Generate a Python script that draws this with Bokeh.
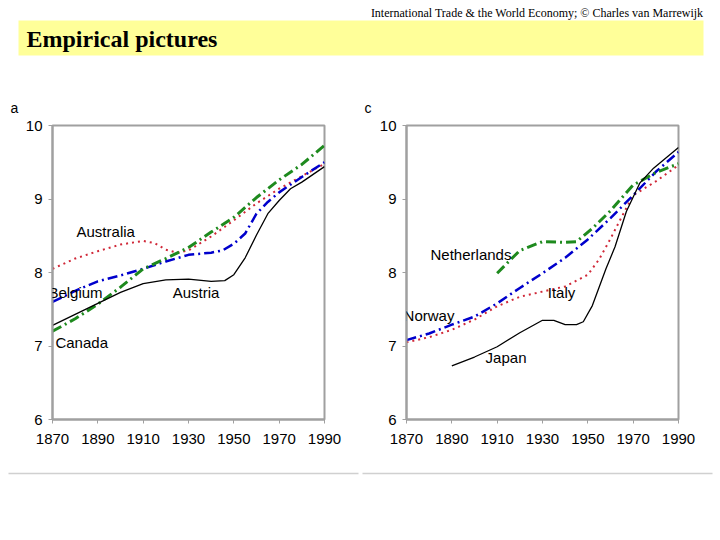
from bokeh.plotting import figure
from bokeh.models import Range1d, Label, FixedTicker
from bokeh.layouts import column, row
from bokeh.embed import file_html
from bokeh.resources import INLINE
from bokeh.core.properties import value

# ---------------- data ----------------
# Panel a
aus_years = [1870, 1880, 1890, 1900, 1910, 1915, 1920, 1925, 1930, 1940, 1950, 1960, 1970, 1980, 1990]
aus_vals  = [8.05, 8.19, 8.29, 8.38, 8.43, 8.40, 8.31, 8.27, 8.30, 8.49, 8.71, 8.94, 9.14, 9.31, 9.48]
bel_years = [1870, 1880, 1890, 1900, 1910, 1920, 1930, 1940, 1945, 1950, 1955, 1960, 1965, 1970, 1980, 1990]
bel_vals  = [7.60, 7.75, 7.88, 7.96, 8.05, 8.15, 8.24, 8.27, 8.30, 8.39, 8.53, 8.80, 8.96, 9.09, 9.30, 9.50]
can_years = [1870, 1880, 1890, 1900, 1910, 1920, 1930, 1940, 1950, 1960, 1970, 1980, 1990]
can_vals  = [7.20, 7.37, 7.57, 7.80, 8.05, 8.19, 8.34, 8.55, 8.75, 9.02, 9.26, 9.47, 9.73]
aut_years = [1870, 1880, 1890, 1900, 1910, 1920, 1930, 1940, 1946, 1950, 1955, 1960, 1965, 1970, 1975, 1980, 1990]
aut_vals  = [7.28, 7.43, 7.58, 7.73, 7.85, 7.90, 7.91, 7.88, 7.89, 7.97, 8.20, 8.51, 8.80, 8.98, 9.14, 9.23, 9.44]

# Panel c
ned_years = [1910, 1920, 1930, 1940, 1945, 1952, 1960, 1970, 1980, 1990]
ned_vals  = [7.99, 8.30, 8.42, 8.41, 8.42, 8.60, 8.84, 9.19, 9.36, 9.48]
nor_years = [1870, 1880, 1890, 1900, 1910, 1920, 1930, 1940, 1950, 1960, 1970, 1980, 1990]
nor_vals  = [7.08, 7.17, 7.29, 7.40, 7.58, 7.79, 7.99, 8.20, 8.45, 8.74, 9.05, 9.37, 9.64]
ita_years = [1870, 1880, 1890, 1900, 1910, 1920, 1930, 1940, 1950, 1955, 1960, 1965, 1970, 1980, 1990]
ita_vals  = [7.05, 7.12, 7.22, 7.36, 7.54, 7.67, 7.74, 7.81, 7.97, 8.18, 8.46, 8.76, 9.05, 9.24, 9.46]
jap_years = [1890, 1900, 1910, 1920, 1930, 1935, 1940, 1945, 1948, 1952, 1958, 1962, 1967, 1973, 1979, 1990]
jap_vals  = [6.73, 6.85, 6.99, 7.18, 7.35, 7.35, 7.29, 7.29, 7.33, 7.55, 8.05, 8.35, 8.83, 9.22, 9.42, 9.70]

x_ticks = [1870, 1890, 1910, 1930, 1950, 1970, 1990]
y_ticks = [6, 7, 8, 9, 10]

labels_a = ["Australia", "Belgium", "Austria", "Canada"]
labels_a_x = [1880.6, 1868.2, 1923.0, 1871.3]
labels_a_y = [8.56, 7.73, 7.73, 7.05]
labels_c = ["Netherlands", "Norway", "Italy", "Japan"]
labels_c_x = [1880.6, 1868.7, 1932.3, 1904.9]
labels_c_y = [8.25, 7.42, 7.73, 6.85]

header_text = "International Trade & the World Economy;  \u00a9 Charles van Marrewijk"
title_text = "Empirical pictures"

FONT = "Liberation Sans"
SERIF = "Liberation Serif"
RED = "#D02838"
BLUE = "#0000CC"
GREEN = "#1E8A1E"
GRAY = "#A0A0A0"


def blank(width, height):
    f = figure(width=width, height=height, x_range=Range1d(0, width), y_range=Range1d(height, 0),
               output_backend="svg", toolbar_location=None,
               min_border=0, min_border_left=0, min_border_right=0,
               min_border_top=0, min_border_bottom=0)
    f.axis.visible = False
    f.grid.visible = False
    f.outline_line_color = None
    return f


# ---------------- top strip (header, banner, panel letters) ----------------
top = blank(720, 116)
top.quad(left=[18], right=[703], top=[20], bottom=[55], fill_color="#FFFF99", line_color=None)
top.text(x=[706], y=[12], text=[header_text], text_align="right", text_baseline="middle",
         text_font=value(SERIF), text_font_size="12px", text_color="#000000")
top.text(x=[26], y=[38], text=[title_text], text_align="left", text_baseline="middle",
         text_font=value(SERIF), text_font_size="24px", text_font_style="bold", text_color="#000000")
top.text(x=[10, 364], y=[107, 107], text=["a", "c"], text_align="left", text_baseline="middle",
         text_font=value(FONT), text_font_size="14px", text_color="#000000")


def panel(left_border, right_border):
    p = figure(width=360, height=352, x_range=Range1d(1870, 1990), y_range=Range1d(6, 10),
               output_backend="svg", toolbar_location=None,
               min_border_left=left_border, min_border_right=right_border,
               min_border_top=9, min_border_bottom=49)
    p.grid.visible = False
    p.outline_line_color = GRAY
    p.outline_line_width = 2
    p.xaxis.ticker = FixedTicker(ticks=x_ticks)
    p.yaxis.ticker = FixedTicker(ticks=y_ticks)
    for ax in (p.xaxis[0], p.yaxis[0]):
        ax.axis_line_color = GRAY
        ax.axis_line_width = 2
        ax.major_tick_line_color = GRAY
        ax.major_tick_out = 4
        ax.major_tick_in = 0
        ax.minor_tick_line_color = None
        ax.major_label_text_font = FONT
        ax.major_label_text_font_size = "15px"
        ax.major_label_text_color = "#000000"
    p.xaxis.major_label_standoff = 10
    p.yaxis.major_label_standoff = 6
    return p


def add_labels(p, texts, xs, ys):
    for t, x, y in zip(texts, xs, ys):
        p.add_layout(Label(x=x, y=y, text=t, text_align="left", text_baseline="middle",
                           text_font=FONT, text_font_size="15px", text_color="#000000"))


pa = panel(52, 36)
pa.line(aus_years, aus_vals, line_color=RED, line_width=2, line_dash="2 4")
pa.line(bel_years, bel_vals, line_color=BLUE, line_width=2.5, line_dash="10 4 2 4")
pa.line(can_years, can_vals, line_color=GREEN, line_width=3, line_dash="10 4 2 4")
pa.line(aut_years, aut_vals, line_color="#000000", line_width=1.3)
add_labels(pa, labels_a, labels_a_x, labels_a_y)

pc = panel(46, 42)
pc.line(ita_years, ita_vals, line_color=RED, line_width=2, line_dash="2 4")
pc.line(nor_years, nor_vals, line_color=BLUE, line_width=2.5, line_dash="10 4 2 4")
pc.line(ned_years, ned_vals, line_color=GREEN, line_width=3, line_dash="10 4 2 4")
pc.line(jap_years, jap_vals, line_color="#000000", line_width=1.3)
add_labels(pc, labels_c, labels_c_x, labels_c_y)

# ---------------- bottom strip (separator lines) ----------------
bot = blank(720, 12)
bot.segment(x0=[8, 362], y0=[5, 5], x1=[358, 712], y1=[5, 5], line_color="#D0D0D0", line_width=1.5)

layout = column(top, row(pa, pc), bot)
open("out.html", "w").write(file_html(layout, INLINE))
